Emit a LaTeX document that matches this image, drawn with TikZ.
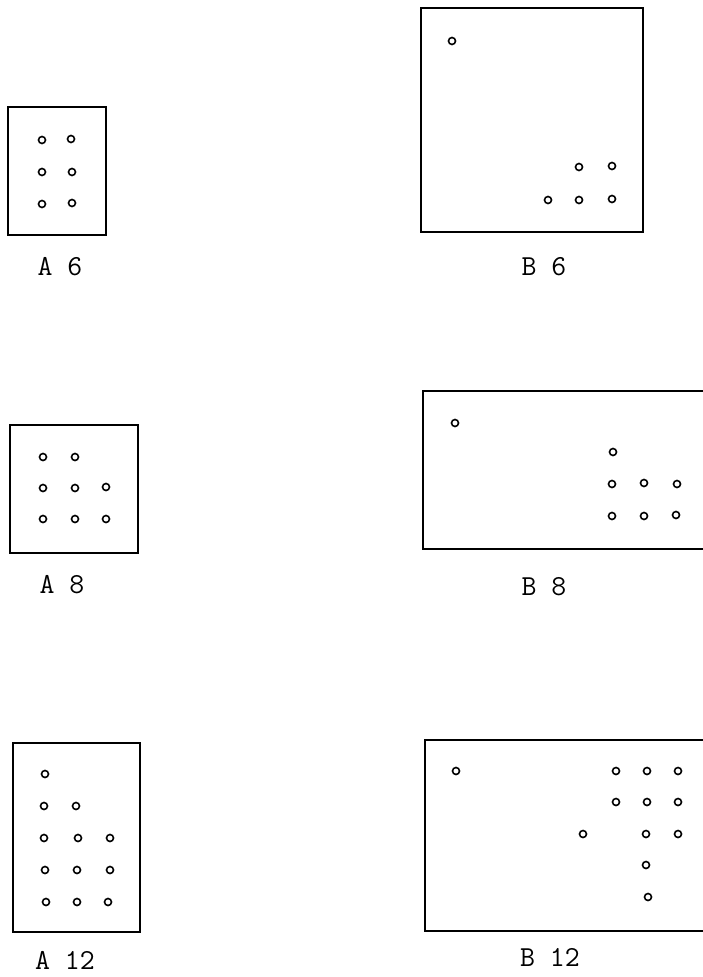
\documentclass[tikz,border=0pt]{standalone}
\usepackage{fontspec}
\begin{document}
\begin{tikzpicture}[x=1pt,y=-1pt,
  frame/.style={draw=black, line width=1.7pt},
  dot/.style={circle, draw=black, line width=1.6pt, minimum size=7pt, inner sep=0pt},
  lbl/.style={font=\ttfamily\fontsize{29}{32}\selectfont, inner sep=0pt}]
\useasboundingbox (0,0) rectangle (703,977);
% A6
\draw[frame] (8,107) rectangle (106,235);
\foreach \x/\y in {42/140,71/139,42/172,72/172,42/204,72/203} \node[dot] at (\x,\y) {};
\node[lbl] (la6) at (60,267) {A 6};
% B6
\draw[frame] (421,8) rectangle (643,232);
\foreach \x/\y in {452/41,579/167,612/166,548/200,579/200,612/199} \node[dot] at (\x,\y) {};
\node[lbl] (lb6) at (544,267) {B 6};
% A8
\draw[frame] (10,425) rectangle (138,553);
\foreach \x/\y in {43/457,75/457,43/488,75/488,106/487,43/519,75/519,106/519} \node[dot] at (\x,\y) {};
\node[lbl] (la8) at (62,585) {A 8};
% B8
\draw[frame] (706,391) -- (423,391) -- (423,549) -- (706,549);
\foreach \x/\y in {455/423,613/452,612/484,644/483,677/484,612/516,644/516,676/515} \node[dot] at (\x,\y) {};
\node[lbl] (lb8) at (544,587) {B 8};
% A12
\draw[frame] (13,743) rectangle (140,932);
\foreach \x/\y in {45/774,44/806,76/806,44/838,78/838,110/838,45/870,77/870,110/870,46/902,77/902,108/902} \node[dot] at (\x,\y) {};
\node[lbl] (la12) at (65,960) {A 12};
% B12
\draw[frame] (706,740) -- (425,740) -- (425,931) -- (706,931);
\foreach \x/\y in {456/771,616/771,647/771,678/771,616/802,647/802,678/802,583/834,646/834,678/834,646/865,648/897} \node[dot] at (\x,\y) {};
\node[lbl] (lb12) at (550,957) {B 12};
\end{tikzpicture}
\end{document}
